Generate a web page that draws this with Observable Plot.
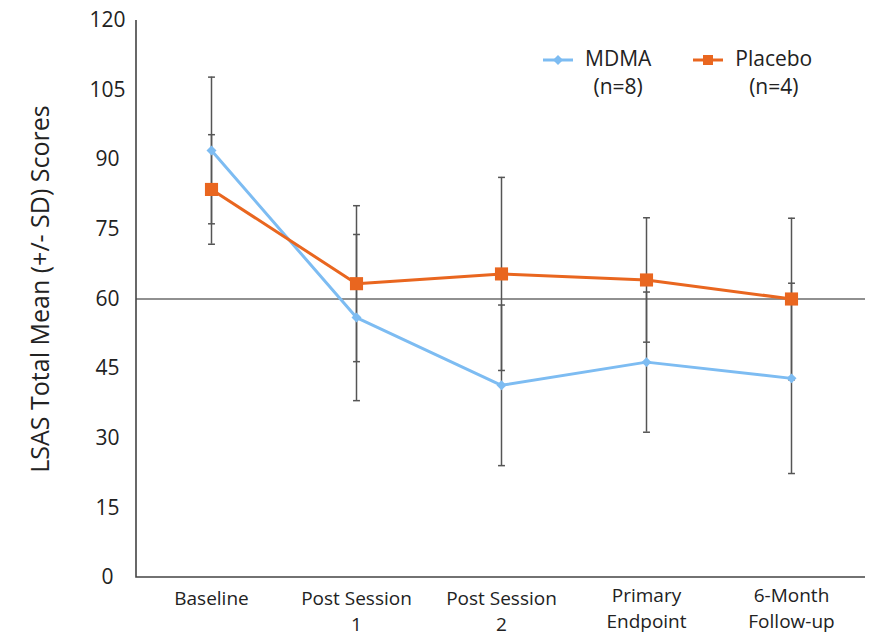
<!DOCTYPE html>
<html>
<head>
<meta charset="utf-8">
<script src="https://cdn.jsdelivr.net/npm/d3@7"></script>
<script src="https://cdn.jsdelivr.net/npm/@observablehq/plot@0.6"></script>
<style>
  body { margin: 0; background: #fff; font-family: "Open Sans", sans-serif; }
  #wrap { position: relative; width: 881px; height: 638px; }
  #legend { position: absolute; left: 543px; top: 44px; display: flex; gap: 42px; font-size: 21px; color: #222; }
  .item { display: flex; align-items: flex-start; }
  .item svg { margin-top: 9px; margin-right: 12px; }
  .lab { text-align: center; line-height: 28px; }
</style>
</head>
<body>
<div id="wrap">
  <div id="chart"></div>
  <div id="legend"></div>
</div>
<script>
const timepoints = ["Baseline", "Post Session\n1", "Post Session\n2", "Primary\nEndpoint", "6-Month\nFollow-up"];
const groups = ["MDMA", "Placebo"];
const groupSizes = ["(n=8)", "(n=4)"];
const mdmaMean = [92.0, 56.0, 41.4, 46.4, 42.9];
const mdmaSD = [15.8, 17.9, 17.3, 15.1, 20.5];
const placeboMean = [83.6, 63.3, 65.4, 64.1, 60.0];
const placeboSD = [11.8, 16.8, 20.8, 13.4, 17.4];
const yTicks = [0, 15, 30, 45, 60, 75, 90, 105, 120];
const refValue = 60;
const yLabel = "LSAS Total Mean (+/- SD) Scores";
const colors = ["#7dbcf2", "#e9661f"];

const data = [];
timepoints.forEach((t, i) => {
  data.push({time: t, group: "MDMA", mean: mdmaMean[i], sd: mdmaSD[i]});
  data.push({time: t, group: "Placebo", mean: placeboMean[i], sd: placeboSD[i]});
});
const caps = data.flatMap(d => [{time: d.time, v: d.mean - d.sd}, {time: d.time, v: d.mean + d.sd}]);

const capSymbol = {
  draw(ctx, size) {
    const w = Math.sqrt(size) * 0.65;
    ctx.moveTo(-w, 0);
    ctx.lineTo(w, 0);
  }
};

// left and bottom axis lines along the frame edges
const axisLines = (index, scales, values, dims) => {
  const ns = "http://www.w3.org/2000/svg";
  const g = document.createElementNS(ns, "g");
  const x0 = dims.marginLeft, x1 = dims.width - dims.marginRight;
  const y0 = dims.marginTop, y1 = dims.height - dims.marginBottom;
  const p = document.createElementNS(ns, "path");
  p.setAttribute("d", `M${x0},${y0}V${y1}H${x1}`);
  p.setAttribute("fill", "none");
  p.setAttribute("stroke", "#444");
  p.setAttribute("stroke-width", "1.6");
  g.append(p);
  return g;
};

const font = "Open Sans, sans-serif";
const chart = Plot.plot({
  width: 881,
  height: 638,
  marginLeft: 136,
  marginRight: 16,
  marginTop: 20,
  marginBottom: 61,
  style: {fontFamily: font, color: "#222", background: "#fff"},
  x: {type: "point", domain: timepoints, padding: 0.5, axis: null},
  y: {domain: [0, 120], axis: null},
  color: {domain: groups, range: colors},
  marks: [
    Plot.ruleY([refValue], {stroke: "#222", strokeWidth: 1.2}),
    axisLines,
    Plot.axisY({ticks: yTicks, tickSize: 0, tickPadding: 29, textAnchor: "middle", fontSize: 21, label: null}),
    Plot.axisX(timepoints.slice(0, 3), {tickSize: 0, tickPadding: 10, fontSize: 19, lineHeight: 1.33, label: null}),
    Plot.axisX(timepoints.slice(3), {tickSize: 0, tickPadding: 7, fontSize: 19, lineHeight: 1.33, label: null}),
    Plot.text([yLabel], {frameAnchor: "left", textAnchor: "middle", dx: -96, dy: -10, rotate: -90, fontSize: 25, fill: "#222"}),
    Plot.ruleX(data, {x: "time", y1: d => d.mean - d.sd, y2: d => d.mean + d.sd, stroke: "#555", strokeWidth: 1.5}),
    Plot.dot(caps, {x: "time", y: "v", symbol: capSymbol, r: 3, stroke: "#555", strokeWidth: 1.5}),
    Plot.line(data, {x: "time", y: "mean", stroke: "group", strokeWidth: 3}),
    Plot.dot(data.filter(d => d.group === "MDMA"), {x: "time", y: "mean", symbol: "diamond2", r: 4.5, fill: colors[0]}),
    Plot.dot(data.filter(d => d.group === "Placebo"), {x: "time", y: "mean", symbol: "square", r: 7.4, fill: colors[1]})
  ]
});
document.getElementById("chart").append(chart);

const legend = document.getElementById("legend");
groups.forEach((g, i) => {
  const item = document.createElement("div");
  item.className = "item";
  const sym = i === 0
    ? `<polygon points="15,2 20,7 15,12 10,7" fill="${colors[0]}"/>`
    : `<rect x="10" y="2" width="10" height="10" fill="${colors[1]}"/>`;
  item.innerHTML = `<svg width="30" height="14"><line x1="0" y1="7" x2="30" y2="7" stroke="${colors[i]}" stroke-width="3"/>${sym}</svg><div class="lab">${g}<br>${groupSizes[i]}</div>`;
  legend.append(item);
});
</script>
</body>
</html>
